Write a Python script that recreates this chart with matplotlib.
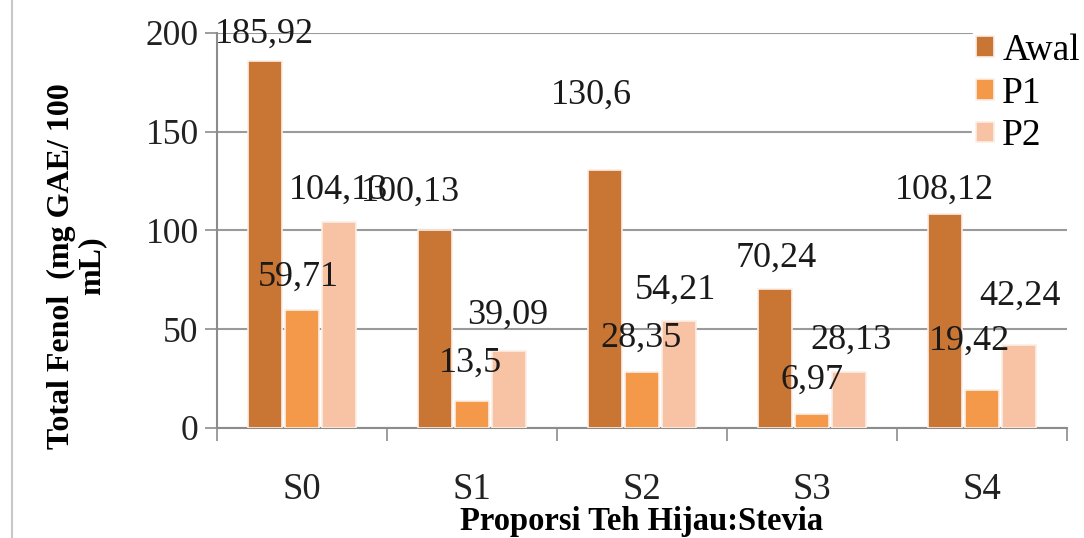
import numpy as np
import matplotlib.pyplot as plt
from matplotlib.lines import Line2D

categories = ["S0", "S1", "S2", "S3", "S4"]
series_names = ["Awal", "P1", "P2"]
awal = [185.92, 100.13, 130.6, 70.24, 108.12]
p1 = [59.71, 13.5, 28.35, 6.97, 19.42]
p2 = [104.13, 39.09, 54.21, 28.13, 42.24]
labels_awal = ["185,92", "100,13", "130,6", "70,24", "108,12"]
labels_p1 = ["59,71", "13,5", "28,35", "6,97", "19,42"]
labels_p2 = ["104,13", "39,09", "54,21", "28,13", "42,24"]

colors = ["#C97635", "#F4994A", "#F8C2A4"]

# label nudges in pixels (dx, dy above bar top) - Excel labels were dragged around
nudge_awal = [(0, 27), (-24, 38), (-13, 75), (2, 31), (0, 24)]
nudge_p1 = [(-3, 33), (-1, 38), (-1, 34), (0, 34), (-12, 48)]
nudge_p2 = [(0, 32), (-1, 36), (-3, 31), (2, 32), (1, 48)]

plt.rcParams["font.family"] = ["Liberation Serif", "DejaVu Serif"]

dpi = 100
fig = plt.figure(figsize=(10.84, 5.38), dpi=dpi)
ax = fig.add_axes([0.2, 0.2045, 0.784, 0.7342])

x = np.arange(len(categories))
w = 0.2
step = 0.218
series = [awal, p1, p2]
labels = [labels_awal, labels_p1, labels_p2]
nudges = [nudge_awal, nudge_p1, nudge_p2]
px2pt = 72.0 / dpi

for i, (vals, col, name) in enumerate(zip(series, colors, series_names)):
    xs = x + (i - 1) * step
    ax.bar(xs, vals, width=w, color=col, edgecolor="#FCEFE6", linewidth=1.2,
           label=name, zorder=3)
    for xi, v, lab, (dx, dy) in zip(xs, vals, labels[i], nudges[i]):
        ax.annotate(lab, (xi, v), xytext=(dx * px2pt, dy * px2pt),
                    textcoords="offset points", ha="center", va="center",
                    fontsize=26, color="#1a1a1a", zorder=5)

ax.set_xlim(-0.5, 4.5)
ax.set_ylim(0, 200)
ax.set_yticks([0, 50, 100, 150, 200])
ax.tick_params(axis="y", labelsize=25.5, length=9, width=1.2, color="#8c8c8c",
               pad=4, labelcolor="#222222")
ax.set_xticks(x)
ax.set_xticklabels(categories)
ax.tick_params(axis="x", which="major", length=0, labelsize=26.5, pad=32,
               labelcolor="#222222")
ax.set_xticks(np.arange(-0.5, 5.0, 1.0), minor=True)
ax.tick_params(axis="x", which="minor", length=9, width=1.2, color="#8c8c8c")

ax.grid(axis="y", color="#9a9a9a", linewidth=1.5, zorder=0)
ax.set_axisbelow(True)
for s in ["top", "right"]:
    ax.spines[s].set_visible(False)
for s in ["left", "bottom"]:
    ax.spines[s].set_color("#8c8c8c")
    ax.spines[s].set_linewidth(1.5)

ax.set_ylabel("Total Fenol  (mg GAE/ 100\nmL)", fontsize=23, fontweight="bold",
              linespacing=1.05)
ax.yaxis.set_label_coords(-0.13, 0.41)
ax.set_xlabel("Proporsi Teh Hijau:Stevia", fontsize=23.5, fontweight="bold")
ax.xaxis.set_label_coords(0.5, -0.198)

leg = ax.legend(loc="upper right", bbox_to_anchor=(1.042, 1.056), fontsize=27,
                frameon=True, framealpha=1, edgecolor="white",
                handlelength=0.48, handleheight=0.48, handletextpad=0.22,
                labelspacing=0.22, borderpad=0.1)
leg.set_zorder(6)

# page border line at the far left
fig.add_artist(Line2D([0.011, 0.011], [0, 1], color="#c8c8c8", linewidth=1.5))

fig.savefig("out.png", dpi=dpi)
